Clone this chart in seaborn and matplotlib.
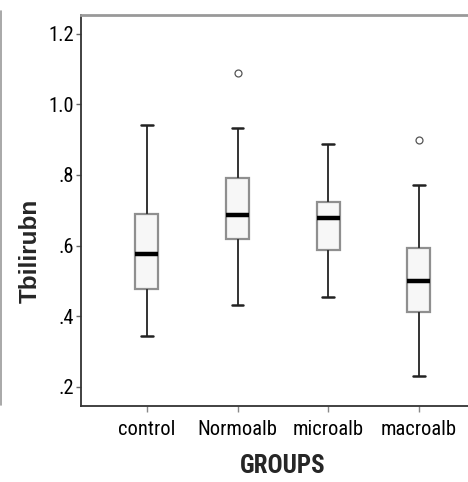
import matplotlib
matplotlib.use("Agg")
import matplotlib.pyplot as plt
from matplotlib import font_manager
from matplotlib.lines import Line2D
import numpy as np
import pandas as pd
import seaborn as sns

# Group labels and the five-number summaries of total bilirubin per group
groups = ["control", "Normoalb", "microalb", "macroalb"]
lower_whisker = [0.343, 0.431, 0.454, 0.229]
q1 = [0.478, 0.618, 0.587, 0.412]
median = [0.577, 0.686, 0.678, 0.499]
q3 = [0.688, 0.790, 0.722, 0.594]
upper_whisker = [0.941, 0.934, 0.887, 0.771]
outliers = [[], [1.089], [], [0.898]]

y_ticks = [0.2, 0.4, 0.6, 0.8, 1.0, 1.2]
y_tick_labels = [".2", ".4", ".6", ".8", "1.0", "1.2"]

# Nine observations per group whose quartiles and whisker ends equal the summary
rows = []
for g, lo, a, m, b, hi, out in zip(groups, lower_whisker, q1, median, q3,
                                   upper_whisker, outliers):
    extra = out[0] if out else hi
    for v in [lo, a, a, m, m, b, b, hi, extra]:
        rows.append({"GROUPS": g, "Tbilirubn": v})
df = pd.DataFrame(rows)

sns.set_style("white")

# Prefer a narrow sans face for the axis text when one is installed
available = {f.name for f in font_manager.fontManager.ttflist}
narrow_candidates = ["Liberation Sans Narrow", "Arial Narrow", "Roboto Condensed",
                     "Open Sans Condensed", "DejaVu Sans Condensed"]
narrow_extra = sorted(n for n in available
                      if ("Narrow" in n or "Condensed" in n) and n not in narrow_candidates)
narrow_face = next((n for n in narrow_candidates + narrow_extra if n in available), None)
if narrow_face:
    plt.rcParams["font.family"] = [narrow_face, "Liberation Sans", "DejaVu Sans"]
    tick_size, xlab_size = 14.8, 18
else:
    plt.rcParams["font.family"] = ["Liberation Sans", "DejaVu Sans"]
    tick_size, xlab_size = 13.5, 15

fig = plt.figure(figsize=(4.68, 4.82), dpi=100)
ax = fig.add_axes([0.1741, 0.1583, 0.8605, 0.8106])

sns.boxplot(
    data=df, x="GROUPS", y="Tbilirubn", order=groups, ax=ax,
    width=0.254, color="#f7f7f7", saturation=1, linecolor="#7f7f7f",
    linewidth=1.6,
    boxprops=dict(edgecolor="#8f8f8f", linewidth=1.6),
    medianprops=dict(color="black", linewidth=3.2),
    whiskerprops=dict(color="#333333", linewidth=1.4),
    capprops=dict(color="#222222", linewidth=1.8),
    flierprops=dict(marker="o", markersize=5, markerfacecolor="none",
                    markeredgecolor="#555555", markeredgewidth=0.9),
)

ax.set_xlim(-0.721, 3.721)
ax.set_ylim(0.1462, 1.253)
ax.set_yticks(y_ticks)
ax.set_yticklabels(y_tick_labels)

ax.tick_params(axis="y", which="major", left=True, length=3.8, width=1.0,
               color="#666666", pad=1.5, labelsize=tick_size, labelcolor="black")
ax.tick_params(axis="x", which="major", bottom=True, length=4.5, width=1.0,
               color="#888888", pad=6, labelsize=tick_size, labelcolor="black")

for side in ["left", "bottom"]:
    ax.spines[side].set_color("#333333")
    ax.spines[side].set_linewidth(1.3)
ax.spines["top"].set_color("#999999")
ax.spines["top"].set_linewidth(2.0)
ax.spines["right"].set_visible(False)

ax.set_xlabel("GROUPS", fontsize=xlab_size, fontweight="bold")
ax.xaxis.set_label_coords(0.499, -0.1556)
ax.xaxis.label.set_va("center")

ax.set_ylabel("Tbilirubn", fontsize=17.5, fontweight="bold",
              family=["Liberation Sans", "DejaVu Sans"])
ax.yaxis.set_label_coords(-0.128, 0.397)
ax.yaxis.label.set_va("center")

# Thin frame line along the left edge of the chart panel
fig.add_artist(Line2D([0.0015, 0.0015], [1 - 11 / 482, 1 - 405 / 482],
                      transform=fig.transFigure, color="#9a9a9a", linewidth=1.2))

fig.savefig("out.png", dpi=100)
